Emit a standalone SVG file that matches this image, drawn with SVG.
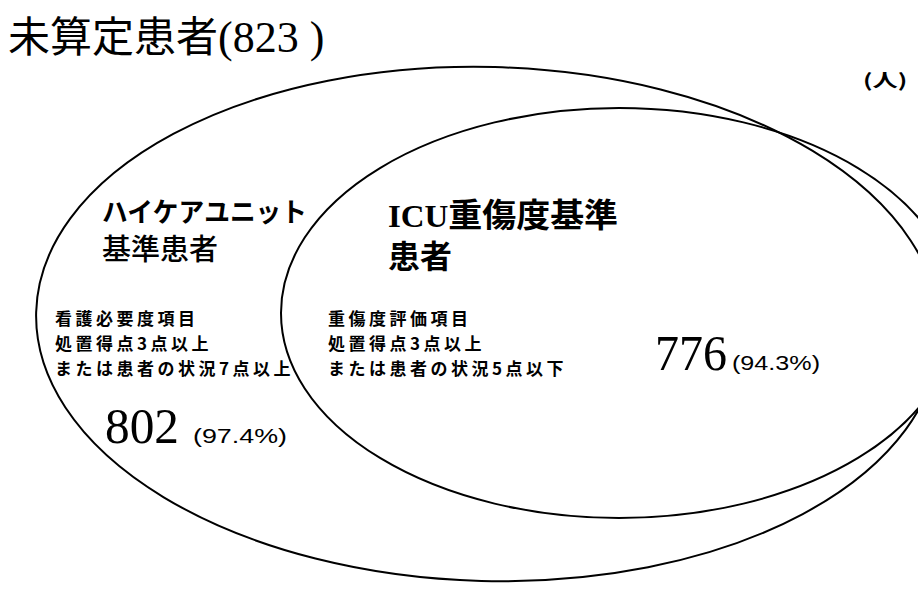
<svg xmlns="http://www.w3.org/2000/svg" width="918" height="590" viewBox="0 0 918 590">
<style>
.el{fill:none;stroke:#000;stroke-width:2}
.jp{font-family:"Noto Sans CJK JP","Noto Sans CJK SC",sans-serif;fill:#000}
.sr{font-family:"Liberation Serif","Noto Sans CJK JP",serif;fill:#000}
.sn{font-family:"Liberation Sans","Noto Sans CJK JP",sans-serif;fill:#000}
.small{font-size:17px;font-weight:bold;letter-spacing:3.5px}
</style>
<rect width="918" height="590" fill="#fff"/>
<g id="title">
<text x="8" y="52" class="jp" font-size="42">未算定患者<tspan class="sr" font-size="44">(823 )</tspan></text>
</g>
<g id="unit">
<text transform="translate(863 87) scale(1.4 1)" x="0" y="0" class="jp" font-size="18" font-weight="bold">(人)</text>
</g>
<g id="hcu">
<ellipse class="el" cx="488" cy="324" rx="452" ry="257" transform="rotate(1.5 488 324)"/>
<text x="102" y="222" class="jp" font-size="27" font-weight="bold" textLength="205" lengthAdjust="spacingAndGlyphs">ハイケアユニット</text>
<text x="102" y="260" class="jp" font-size="29" font-weight="500">基準患者</text>
<text class="jp small"><tspan x="55" y="325">看護必要度項目</tspan><tspan x="55" y="350">処置得点3点以上</tspan><tspan x="55" y="375">または患者の状況7点以上</tspan></text>
<text x="105" y="443" class="sr" font-size="51" textLength="74" lengthAdjust="spacingAndGlyphs">802</text>
<text x="193" y="443" class="sn" font-size="21" textLength="94" lengthAdjust="spacingAndGlyphs">(97.4%)</text>
</g>
<g id="icu">
<ellipse class="el" cx="619" cy="313" rx="338" ry="205"/>
<text x="388" y="227" class="jp" font-size="33" font-weight="bold" textLength="230" lengthAdjust="spacingAndGlyphs"><tspan class="sr" font-size="32">ICU</tspan>重傷度基準</text>
<text x="388" y="268" class="jp" font-size="32" font-weight="bold">患者</text>
<text class="jp small"><tspan x="328" y="325">重傷度評価項目</tspan><tspan x="328" y="350">処置得点3点以上</tspan><tspan x="328" y="375">または患者の状況5点以下</tspan></text>
<text x="655" y="370" class="sr" font-size="51" textLength="72" lengthAdjust="spacingAndGlyphs">776</text>
<text x="732" y="370" class="sn" font-size="21" textLength="88" lengthAdjust="spacingAndGlyphs">(94.3%)</text>
</g>
</svg>
